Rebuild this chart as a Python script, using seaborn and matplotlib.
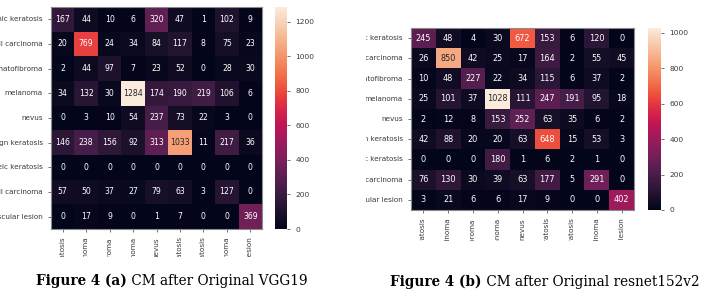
import numpy as np
import matplotlib
matplotlib.use("Agg")
import matplotlib.pyplot as plt
import seaborn as sns
from matplotlib.transforms import Bbox

classes = [
    "actinic keratosis",
    "basal cell carcinoma",
    "dermatofibroma",
    "melanoma",
    "nevus",
    "pigmented benign keratosis",
    "seborrheic keratosis",
    "squamous cell carcinoma",
    "vascular lesion",
]

cm_vgg19 = [
    [167, 44, 10, 6, 320, 47, 1, 102, 9],
    [20, 769, 24, 34, 84, 117, 8, 75, 23],
    [2, 44, 97, 7, 23, 52, 0, 28, 30],
    [34, 132, 30, 1284, 174, 190, 219, 106, 6],
    [0, 3, 10, 54, 237, 73, 22, 3, 0],
    [146, 238, 156, 92, 313, 1033, 11, 217, 36],
    [0, 0, 0, 0, 0, 0, 0, 0, 0],
    [57, 50, 37, 27, 79, 63, 3, 127, 0],
    [0, 17, 9, 0, 1, 7, 0, 0, 369],
]

cm_resnet = [
    [245, 48, 4, 30, 672, 153, 6, 120, 0],
    [26, 850, 42, 25, 17, 164, 2, 55, 45],
    [10, 48, 227, 22, 34, 115, 6, 37, 2],
    [25, 101, 37, 1028, 111, 247, 191, 95, 18],
    [2, 12, 8, 153, 252, 63, 35, 6, 2],
    [42, 88, 20, 20, 63, 648, 15, 53, 3],
    [0, 0, 0, 180, 1, 6, 2, 1, 0],
    [76, 130, 30, 39, 63, 177, 5, 291, 0],
    [3, 21, 6, 6, 17, 9, 0, 0, 402],
]

captions = [
    ("Figure 4 (a)", " CM after Original VGG19"),
    ("Figure 4 (b)", " CM after Original resnet152v2"),
]

W, H = 707, 295
fig = plt.figure(figsize=(W / 100, H / 100), dpi=100)

panels = [
    # heatmap box, colorbar box, label clip box (pixels), caption centre x / baseline
    dict(cm=cm_vgg19, ax=[51, 7, 262, 229], cb=[275, 7, 287, 229],
         clip=[0, 0, 355, 257], cx=172, base=285, afs=5.6),
    dict(cm=cm_resnet, ax=[411, 28, 634, 210], cb=[648, 28, 661, 210],
         clip=[366, 0, 707, 241], cx=545, base=286, afs=5.9),
]


def fig_rect(box):
    x0, y0, x1, y1 = box
    return [x0 / W, 1 - y1 / H, (x1 - x0) / W, (y1 - y0) / H]


label_color = "#3a3a3a"

for p, (bold, rest) in zip(panels, captions):
    ax = fig.add_axes(fig_rect(p["ax"]))
    cax = fig.add_axes(fig_rect(p["cb"]))
    data = np.array(p["cm"])
    sns.heatmap(
        data, annot=True, fmt="d", cmap="rocket", ax=ax, cbar_ax=cax,
        xticklabels=classes, yticklabels=classes,
        annot_kws={"fontsize": p["afs"]},
    )
    ax.tick_params(labelsize=5.2, colors=label_color, length=2.5, width=0.5)
    ax.tick_params(axis="x", rotation=90)
    ax.tick_params(axis="y", rotation=0)
    cax.tick_params(labelsize=5.4, colors=label_color, length=2.5, width=0.5)
    for s in ax.spines.values():
        s.set_visible(True)
        s.set_color("#8a8a8a")
        s.set_linewidth(0.8)

    # labels are cut off by the panel crop
    x0, y0, x1, y1 = p["clip"]
    clip = Bbox.from_extents(x0, H - y1, x1, H - y0)
    for lab in ax.get_xticklabels() + ax.get_yticklabels():
        lab.set_clip_on(True)
        lab.set_clip_box(clip)

    t = fig.text(0, 0, bold, fontsize=9.8, fontweight="bold",
                 family="DejaVu Serif", color="black")
    t2 = fig.text(0, 0, rest, fontsize=9.8, family="DejaVu Serif", color="black")
    p["cap"] = (t, t2)

# place captions centred, bold part followed by the regular part
fig.canvas.draw()
r = fig.canvas.get_renderer()
for p in panels:
    t, t2 = p["cap"]
    w1 = t.get_window_extent(r).width
    w2 = t2.get_window_extent(r).width
    left = p["cx"] - (w1 + w2) / 2
    base = H - p["base"]
    t.set_position((left / W, base / H))
    t2.set_position(((left + w1) / W, base / H))

fig.savefig("out.png", dpi=100, facecolor="white")
